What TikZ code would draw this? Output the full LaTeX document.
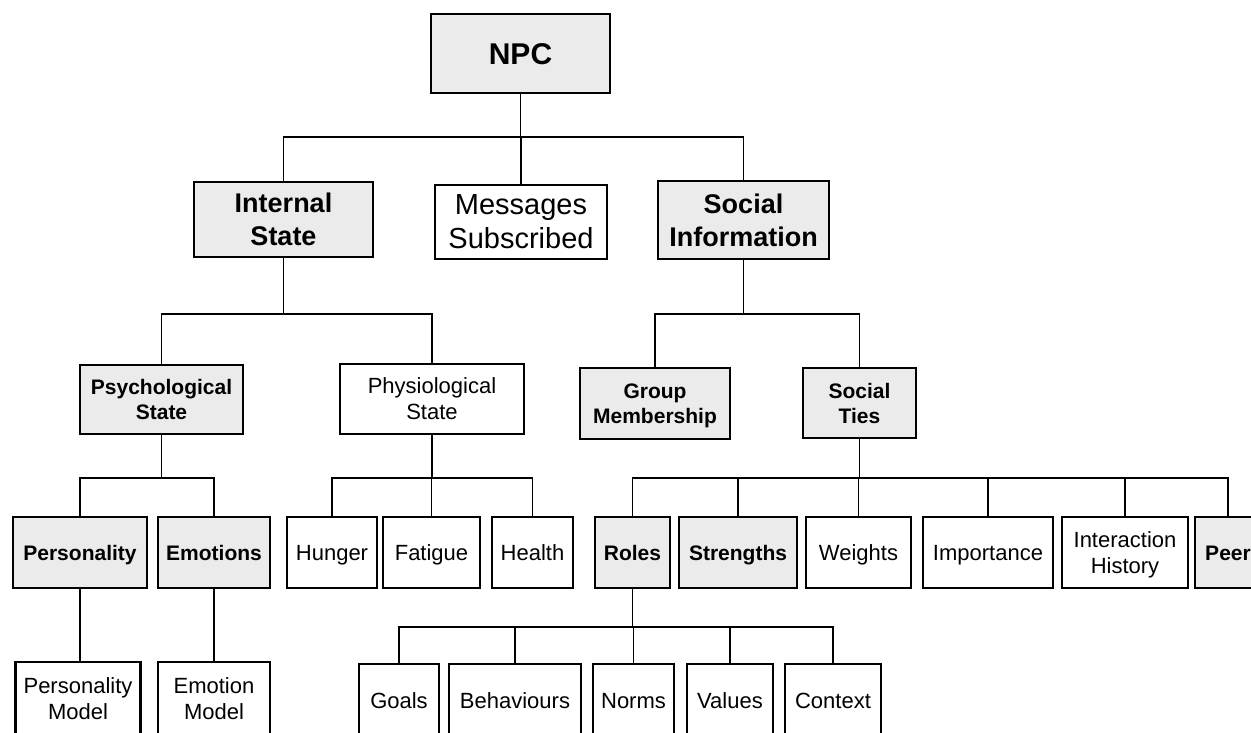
\documentclass[tikz,border=0pt]{standalone}
\usepackage{fontspec}
\setmainfont{Liberation Sans}
\begin{document}
\begin{tikzpicture}[x=1pt, y=-1pt,
  box/.style={draw, line width=2.4pt, rectangle, inner sep=0pt, align=center, text depth=0pt},
  gbox/.style={box, fill=black!8},
  wbox/.style={box, fill=white},
  one/.style={text height=#1},
  one/.default=15.4pt,
  bigb/.style={font=\fontsize{27}{33}\selectfont\bfseries},
  bigr/.style={font=\fontsize{29}{34}\selectfont},
  smb/.style={font=\fontsize{21}{25}\selectfont\bfseries},
  smr/.style={font=\fontsize{22}{26}\selectfont},
  link/.style={line width=1.9pt}]
\useasboundingbox (0,0) rectangle (1251,732);
\clip (0,0) rectangle (1251,732);

% root and first level
\node[gbox, one=21.5pt, font=\fontsize{30}{34}\selectfont\bfseries, minimum width=179pt, minimum height=79pt] (npc) at (520.5,53.5) {NPC};
\node[gbox, bigb, minimum width=179pt, minimum height=75pt] (ist) at (283.5,219.5) {Internal\\State};
\node[wbox, bigr, minimum width=172pt, minimum height=74pt] (msg) at (521,222) {Messages\\Subscribed};
\node[gbox, bigb, minimum width=171pt, minimum height=78pt] (soc) at (743.5,220) {Social\\Information};

% second level
\node[gbox, smb, minimum width=163pt, minimum height=69pt] (psy) at (161.5,399.5) {Psychological\\State};
\node[wbox, smr, minimum width=184pt, minimum height=70pt] (phy) at (432,399) {Physiological\\State};
\node[gbox, smb, minimum width=150pt, minimum height=71pt] (grp) at (655,403.5) {Group\\Membership};
\node[gbox, smb, minimum width=113pt, minimum height=70pt] (tie) at (859.5,403) {Social\\Ties};

% third level
\tikzset{row/.style={minimum height=71pt}}
\node[gbox, smb, one, row, minimum width=134pt] (per) at (80,552.5) {Personality};
\node[gbox, smb, one, row, minimum width=112pt] (emo) at (214,552.5) {Emotions};
\node[wbox, smr, one, row, minimum width=90pt] (hun) at (332,552.5) {Hunger};
\node[wbox, smr, one, row, minimum width=97pt] (fat) at (431.5,552.5) {Fatigue};
\node[wbox, smr, one, row, minimum width=81pt] (hea) at (532.5,552.5) {Health};
\node[gbox, smb, one, row, minimum width=75pt] (rol) at (632.5,552.5) {Roles};
\node[gbox, smb, one, row, minimum width=118pt] (str) at (738,552.5) {Strengths};
\node[wbox, smr, one, row, minimum width=105pt] (wei) at (858.5,552.5) {Weights};
\node[wbox, smr, one, row, minimum width=130pt] (imp) at (988,552.5) {Importance};
\node[wbox, smr, row, minimum width=126pt] (inh) at (1125,552.5) {Interaction\\History};
\node[gbox, smb, one, row, minimum width=66pt] (pee) at (1228,552.5) {Peer};

% fourth level, cut off by the lower edge
\tikzset{low/.style={minimum height=74pt}}
\node[wbox, smr, low, minimum width=125pt] (pm) at (78,699) {Personality\\Model};
\node[wbox, smr, low, minimum width=112pt] (em) at (214,699) {Emotion\\Model};
\node[wbox, smr, one, low, minimum width=80pt] (goa) at (399,701) {Goals};
\node[wbox, smr, one, low, minimum width=132pt] (beh) at (515,701) {Behaviours};
\node[wbox, smr, one, low, minimum width=81pt] (nor) at (633.5,701) {Norms};
\node[wbox, smr, one, low, minimum width=86pt] (val) at (730,701) {Values};
\node[wbox, smr, one, low, minimum width=96pt] (con) at (833,701) {Context};

% bus heights
\coordinate (b1) at (0,137);
\coordinate (b2) at (0,314);
\coordinate (b3) at (0,478);
\coordinate (b4) at (0,627);

% NPC
\draw[link] (npc.south) -- (npc.south |- b1);
\draw[link] (ist.north) -- (ist.north |- b1) -- (soc.north |- b1) -- (soc.north);
\draw[link] (msg.north) -- (msg.north |- b1);

% Internal State
\draw[link] (ist.south) -- (ist.south |- b2);
\draw[link] (psy.north) -- (psy.north |- b2) -- (phy.north |- b2) -- (phy.north);

% Social Information
\draw[link] (soc.south) -- (soc.south |- b2);
\draw[link] (grp.north) -- (grp.north |- b2) -- (tie.north |- b2) -- (tie.north);

% Psychological State
\draw[link] (psy.south) -- (psy.south |- b3);
\draw[link] (per.north) -- (per.north |- b3) -- (emo.north |- b3) -- (emo.north);

% Physiological State
\draw[link] (phy.south) -- (phy.south |- b3);
\draw[link] (hun.north) -- (hun.north |- b3) -- (hea.north |- b3) -- (hea.north);
\draw[link] (fat.north) -- (fat.north |- b3);

% Social Ties
\draw[link] (tie.south) -- (tie.south |- b3);
\draw[link] (rol.north) -- (rol.north |- b3) -- (pee.north |- b3) -- (pee.north);
\foreach \n in {str, wei, imp, inh} \draw[link] (\n.north) -- (\n.north |- b3);

% Personality and Emotions
\draw[link] (per.south) -- (per.south |- pm.north);
\draw[link] (emo.south) -- (emo.south |- em.north);

% Roles
\draw[link] (rol.south) -- (rol.south |- b4);
\draw[link] (goa.north) -- (goa.north |- b4) -- (con.north |- b4) -- (con.north);
\foreach \n in {beh, nor, val} \draw[link] (\n.north) -- (\n.north |- b4);
\end{tikzpicture}
\end{document}
